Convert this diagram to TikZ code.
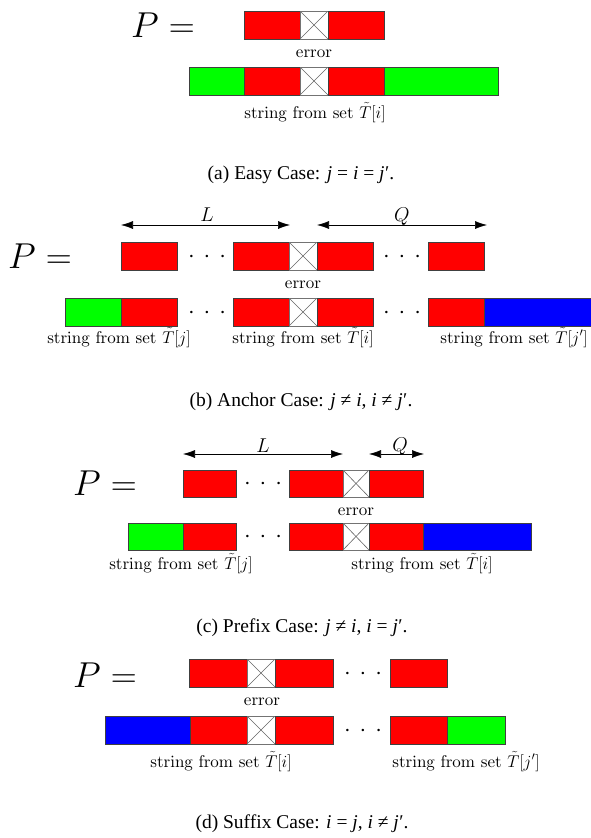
\RequirePackage{fix-cm}
\documentclass[tikz,border=0pt]{standalone}
\usepackage{fontspec}
\newfontfamily\capfont{Liberation Serif}
\usetikzlibrary{arrows.meta}
% Computer Modern at a fixed size for the cell labels
\font\labfont=cmr10 at 17pt
% three spaced dots
\newcommand\gapdots{$\mathord{\cdot}\kern9pt\mathord{\cdot}\kern9pt\mathord{\cdot}$}

\tikzset{
  cell/.style={draw=black!75, line width=0.6pt, inner sep=0pt, outer sep=0pt,
    anchor=north west, minimum height=28},
  redcell/.style={cell, fill=red},
  greencell/.style={cell, fill=green},
  bluecell/.style={cell, fill=blue},
  errcell/.style={cell, draw=black!55, fill=white,
    path picture={\draw[black!60, line width=0.6pt]
      (path picture bounding box.north west) -- (path picture bounding box.south east)
      (path picture bounding box.south west) -- (path picture bounding box.north east);}},
  lbl/.style={font=\fontsize{17}{20}\selectfont\labfont, inner sep=0pt, anchor=base},
  captext/.style={font=\capfont\fontsize{19.5}{22}\selectfont, inner sep=0pt, anchor=base},
  peq/.style={font=\fontsize{36}{40}\selectfont, inner sep=0pt, anchor=base west},
  dimarrow/.style={{Latex[length=12pt,width=8pt]}-{Latex[length=12pt,width=8pt]}, line width=0.6pt},
  dimlbl/.style={font=\fontsize{20}{24}\selectfont, inner sep=0pt, anchor=base},
  dotsnode/.style={font=\fontsize{24}{28}\selectfont, inner sep=0pt, anchor=base},
}

\begin{document}
\begin{tikzpicture}[x=1pt, y=-1pt]
\useasboundingbox (0,0) rectangle (591,838);

% ---------------- (a) easy case ----------------
\node[peq] (Pa) at (131,37) {$P=$};
\node[redcell, minimum width=56] (a1) at (244,11) {};
\node[errcell, minimum width=28] (ax) at (300,11) {};
\node[redcell, minimum width=56] (a2) at (328,11) {};
\node[lbl] (aerr) at (314,57) {error};
\node[greencell, minimum width=55] (ab0) at (189,67) {};
\node[redcell, minimum width=56] (ab1) at (244,67) {};
\node[errcell, minimum width=28] (abx) at (300,67) {};
\node[redcell, minimum width=56] (ab2) at (328,67) {};
\node[greencell, minimum width=114] (ab3) at (384,67) {};
\node[lbl] (alab) at (315,118) {string from set $\tilde{T}[i]$};
\node[captext] (acap) at (301,179) {(a) Easy Case: \textit{j} = \textit{i} = \textit{j}\kern0.5pt′.};

% ---------------- (b) anchor case ----------------
\node[peq] (Pb) at (8,268) {$P=$};
\node[redcell, minimum width=56] (b1) at (121,242) {};
\node[dotsnode] (bd1) at (207,262) {\gapdots};
\node[redcell, minimum width=56] (b2) at (233,242) {};
\node[errcell, minimum width=28] (bx) at (289,242) {};
\node[redcell, minimum width=56] (b3) at (317,242) {};
\node[dotsnode] (bd2) at (402,262) {\gapdots};
\node[redcell, minimum width=56] (b4) at (428,242) {};
\node[lbl] (berr) at (303,288) {error};
\node[greencell, minimum width=56] (bb0) at (65,298) {};
\node[redcell, minimum width=56] (bb1) at (121,298) {};
\node[dotsnode] (bbd1) at (207,318) {\gapdots};
\node[redcell, minimum width=56] (bb2) at (233,298) {};
\node[errcell, minimum width=28] (bbx) at (289,298) {};
\node[redcell, minimum width=56] (bb3) at (317,298) {};
\node[dotsnode] (bbd2) at (402,318) {\gapdots};
\node[redcell, minimum width=56] (bb4) at (428,298) {};
\node[bluecell, minimum width=110] (bb5) at (484,298) {};
\node[lbl] (blab1) at (119,343) {string from set $\tilde{T}[j]$};
\node[lbl] (blab2) at (303,343) {string from set $\tilde{T}[i]$};
\node[lbl] (blab3) at (514,343) {string from set $\tilde{T}[j']$};
\coordinate (bL1) at (121,225);
\coordinate (bL2) at (290,225);
\coordinate (bQ1) at (317,225);
\coordinate (bQ2) at (487,225);
\draw[dimarrow] (bL1) -- (bL2);
\draw[dimarrow] (bQ1) -- (bQ2);
\node[dimlbl] (bL) at (207,221) {$L$};
\node[dimlbl] (bQ) at (402,221) {$Q$};
\node[captext] (bcap) at (301,406) {(b) Anchor Case: \textit{j} ≠ \textit{i}, \textit{i} ≠ \textit{j}\kern0.5pt′.};

% ---------------- (c) prefix case ----------------
\node[peq] (Pc) at (73,495) {$P=$};
\node[redcell, minimum width=53, minimum height=27] (c1) at (183,470) {};
\node[dotsnode] (cd1) at (263,489) {\gapdots};
\node[redcell, minimum width=54, minimum height=27] (c2) at (289,470) {};
\node[errcell, minimum width=26, minimum height=27] (cx) at (343,470) {};
\node[redcell, minimum width=54, minimum height=27] (c3) at (369,470) {};
\node[lbl] (cerr) at (356,515) {error};
\node[greencell, minimum width=55, minimum height=27] (cb0) at (128,523) {};
\node[redcell, minimum width=53, minimum height=27] (cb1) at (183,523) {};
\node[dotsnode] (cbd1) at (263,542) {\gapdots};
\node[redcell, minimum width=54, minimum height=27] (cb2) at (289,523) {};
\node[errcell, minimum width=26, minimum height=27] (cbx) at (343,523) {};
\node[redcell, minimum width=54, minimum height=27] (cb3) at (369,523) {};
\node[bluecell, minimum width=108, minimum height=27] (cb4) at (423,523) {};
\node[lbl] (clab1) at (181,569) {string from set $\tilde{T}[j]$};
\node[lbl] (clab2) at (422,569) {string from set $\tilde{T}[i]$};
\coordinate (cL1) at (183,454);
\coordinate (cL2) at (343,454);
\coordinate (cQ1) at (369,454);
\coordinate (cQ2) at (424,454);
\draw[dimarrow] (cL1) -- (cL2);
\draw[dimarrow] (cQ1) -- (cQ2);
\node[dimlbl] (cL) at (263,452) {$L$};
\node[dimlbl] (cQ) at (400,451) {$Q$};
\node[captext] (ccap) at (302,632) {(c) Prefix Case: \textit{j} ≠ \textit{i}, \textit{i} = \textit{j}\kern0.5pt′.};

% ---------------- (d) suffix case ----------------
\node[peq] (Pd) at (73,687) {$P=$};
\node[redcell, minimum width=58] (d1) at (189,659) {};
\node[errcell, minimum width=28] (dx) at (247,659) {};
\node[redcell, minimum width=58] (d2) at (275,659) {};
\node[dotsnode] (dd1) at (363,679) {\gapdots};
\node[redcell, minimum width=57] (d3) at (390,659) {};
\node[lbl] (derr) at (262,705) {error};
\node[bluecell, minimum width=85] (db0) at (105,716) {};
\node[redcell, minimum width=57] (db1) at (190,716) {};
\node[errcell, minimum width=28] (dbx) at (247,716) {};
\node[redcell, minimum width=58] (db2) at (275,716) {};
\node[dotsnode] (dbd1) at (363,736) {\gapdots};
\node[redcell, minimum width=57] (db3) at (390,716) {};
\node[greencell, minimum width=58] (db4) at (447,716) {};
\node[lbl] (dlab1) at (221,767) {string from set $\tilde{T}[i]$};
\node[lbl] (dlab2) at (466,767) {string from set $\tilde{T}[j']$};
\node[captext] (dcap) at (302,828) {(d) Suffix Case: \textit{i} = \textit{j}, \textit{i} ≠ \textit{j}\kern0.5pt′.};
\end{tikzpicture}
\end{document}
